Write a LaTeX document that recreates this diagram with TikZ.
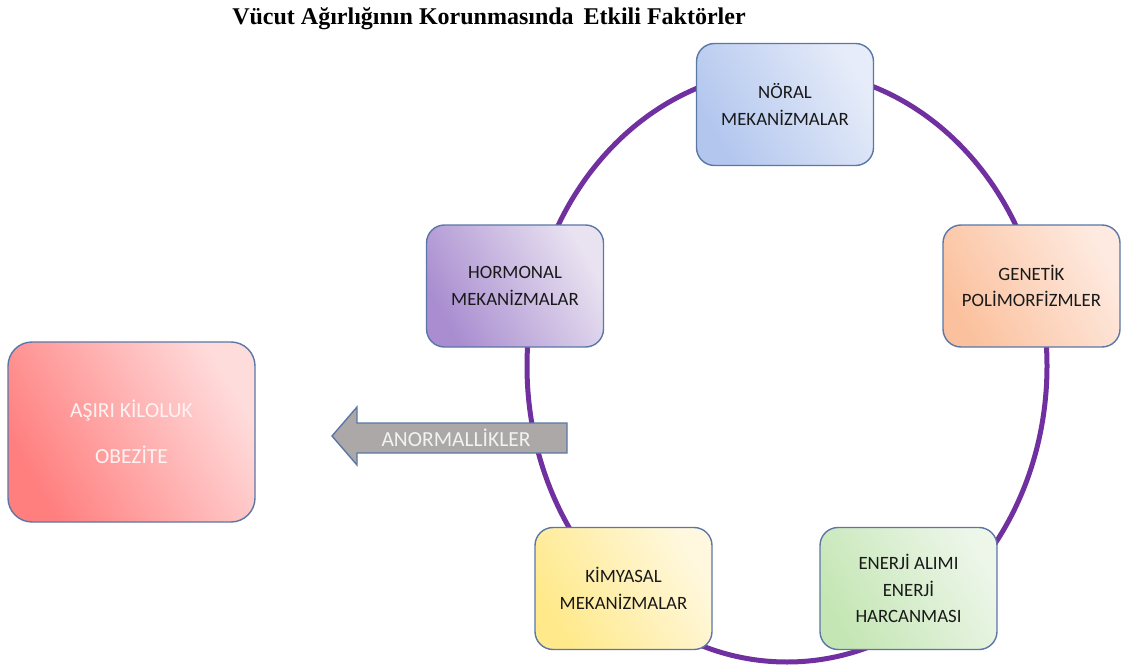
\documentclass[tikz,border=0pt]{standalone}
\usepackage{fontspec}
\setmainfont{Carlito}
\newfontfamily\titlefont{Liberation Serif}
\definecolor{ringcol}{HTML}{7030A0}
\definecolor{edgecol}{HTML}{5B77A6}
\definecolor{bluedk}{HTML}{B2C6EE}\definecolor{bluelt}{HTML}{E6ECF9}
\definecolor{purpdk}{HTML}{A98DD0}\definecolor{purplt}{HTML}{E9E3F1}
\definecolor{orgdk}{HTML}{FBC19E}\definecolor{orglt}{HTML}{FEEAE0}
\definecolor{yeldk}{HTML}{FFE98A}\definecolor{yellt}{HTML}{FFF8DF}
\definecolor{grndk}{HTML}{C4E6B4}\definecolor{grnlt}{HTML}{EDF6E9}
\definecolor{reddk}{HTML}{FF7E7E}\definecolor{redlt}{HTML}{FFDCDC}
\definecolor{arrowgray}{HTML}{ABA8A7}
\begin{document}
\begin{tikzpicture}[x=1pt,y=-1pt,
  factor/.style={draw=edgecol, line width=1.4pt, rounded corners=18pt,
    minimum width=177pt, minimum height=122pt, align=center, inner sep=0pt,
    text=black!90, font=\fontsize{18.8pt}{26.5pt}\selectfont},
  ring/.style={draw=ringcol, line width=5pt},
  graybar/.style={fill=arrowgray, draw=edgecol, line width=1.4pt}]
\useasboundingbox (0,0) rectangle (1125,666);
% title
\node[font=\titlefont\bfseries\fontsize{24pt}{26pt}\selectfont] (title) at (489,19)
  {Vücut Ağırlığının Korunmasında\hspace{4pt} Etkili Faktörler};
% ring
\draw[ring] (787,366) ellipse [x radius=260pt, y radius=296pt];
% factor boxes
\node[factor, left color=bluedk, right color=bluelt, shading angle=120] (noral) at (785,104.5)
  {NÖRAL\\MEKANİZMALAR};
\node[factor, left color=purpdk, right color=purplt, shading angle=120] (hormonal) at (515,286)
  {HORMONAL\\MEKANİZMALAR};
\node[factor, left color=orgdk, right color=orglt, shading angle=120] (genetik) at (1031.5,286)
  {GENETİK\\POLİMORFİZMLER};
\node[factor, left color=yeldk, right color=yellt, shading angle=120] (kimyasal) at (623.5,588.5)
  {KİMYASAL\\MEKANİZMALAR};
\node[factor, left color=grndk, right color=grnlt, shading angle=120] (enerji) at (908.5,588.5)
  {ENERJİ ALIMI\\ENERJİ\\HARCANMASI};
% result box
\node[factor, minimum width=247pt, minimum height=180pt, rounded corners=24pt,
  left color=reddk, right color=redlt, shading angle=120, text=white!95!red,
  font=\fontsize{21.5pt}{46pt}\selectfont] (obezite) at (131.5,432)
  {AŞIRI KİLOLUK\\OBEZİTE};
% arrow
\draw[graybar] (567,423) -- (357,423) -- (357,407) -- (332,436) -- (357,465)
  -- (357,453) -- (567,453) -- cycle;
\node[text=white!95!black, font=\fontsize{21.5pt}{24pt}\selectfont] (anorm) at (456,438)
  {ANORMALLİKLER};
\end{tikzpicture}
\end{document}
